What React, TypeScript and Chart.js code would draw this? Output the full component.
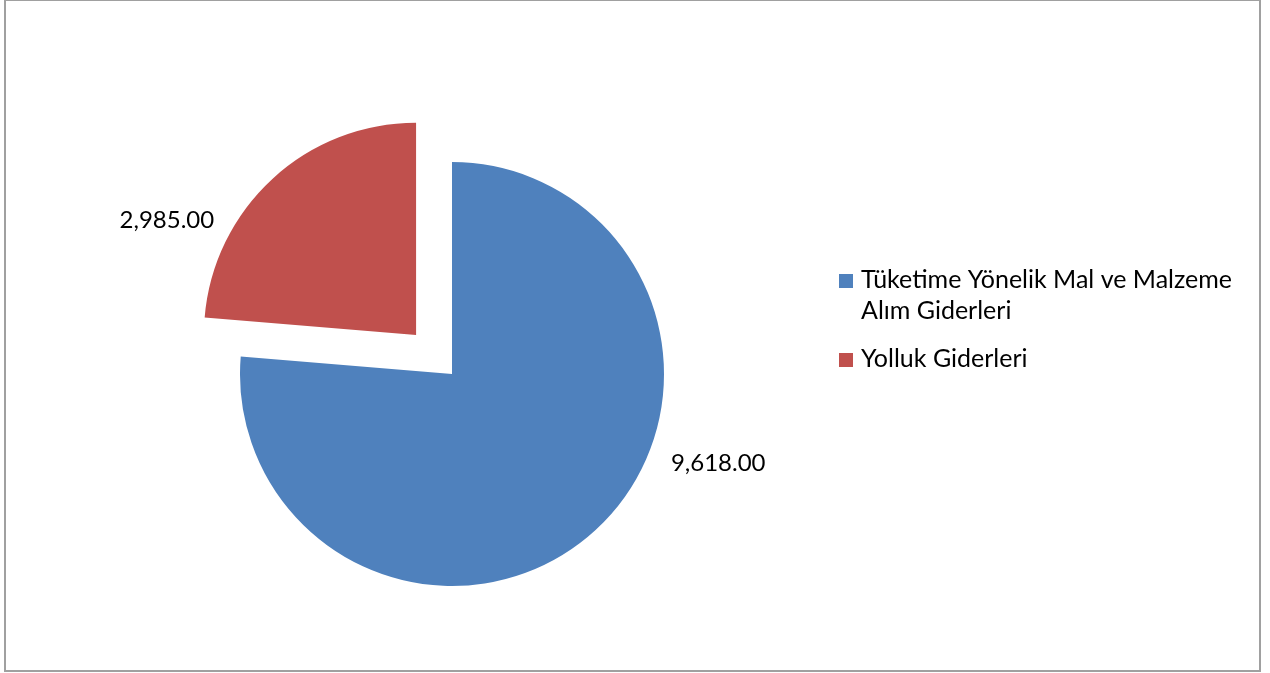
import React, { useEffect, useRef } from "react";
import { Chart, registerables } from "chart.js";

Chart.register(...registerables);

const categories = [
  "Tüketime Yönelik Mal ve Malzeme Alım Giderleri",
  "Yolluk Giderleri",
];
const legendLines = [
  ["Tüketime Yönelik Mal ve Malzeme", "Alım Giderleri"],
  ["Yolluk Giderleri"],
];
const values = [9618, 2985];
const colors = ["#4F81BD", "#C0504D"];

const FONT = "Lato, 'Open Sans', sans-serif";

const fmt = (v: number) =>
  v.toLocaleString("en-US", { minimumFractionDigits: 2, maximumFractionDigits: 2 });

const frameBorder = {
  id: "frameBorder",
  beforeDraw(chart: any) {
    const { ctx } = chart;
    ctx.save();
    ctx.fillStyle = "#ffffff";
    ctx.fillRect(0, 0, chart.width, chart.height);
    ctx.strokeStyle = "#a0a0a0";
    ctx.lineWidth = 2;
    ctx.strokeRect(5, 0, 1255, 671);
    ctx.restore();
  },
};

const valueLabels = {
  id: "valueLabels",
  afterDatasetsDraw(chart: any, _args: any, opts: any) {
    const { ctx } = chart;
    const meta = chart.getDatasetMeta(0);
    const ds = chart.data.datasets[0];
    ctx.save();
    ctx.font = `${opts.size}px ${FONT}`;
    ctx.fillStyle = "#000000";
    ctx.textAlign = "center";
    ctx.textBaseline = "middle";
    meta.data.forEach((arc: any, i: number) => {
      const p = arc.getProps(["x", "y", "startAngle", "endAngle", "outerRadius"], true);
      const off = ((ds.offset && ds.offset[i]) || 0) / 4;
      const mid = (p.startAngle + p.endAngle) / 2;
      const cx = p.x + Math.cos(mid) * off;
      const cy = p.y + Math.sin(mid) * off;
      const a = (opts.angles[i] * Math.PI) / 180;
      const d = opts.dist[i] * p.outerRadius;
      ctx.fillText(fmt(ds.data[i]), cx + Math.cos(a) * d, cy + Math.sin(a) * d);
    });
    ctx.restore();
  },
};

const sideLegend = {
  id: "sideLegend",
  afterDraw(chart: any, _args: any, opts: any) {
    const { ctx } = chart;
    const ds = chart.data.datasets[0];
    ctx.save();
    ctx.font = `${opts.size}px ${FONT}`;
    ctx.textAlign = "left";
    ctx.textBaseline = "alphabetic";
    let y = opts.top;
    legendLines.forEach((lines, i) => {
      ctx.fillStyle = ds.backgroundColor[i];
      ctx.fillRect(opts.boxX, y - opts.box, opts.box, opts.box);
      ctx.fillStyle = "#000000";
      lines.forEach((ln, j) => {
        ctx.fillText(ln, opts.textX, y + j * opts.lineH);
      });
      y += lines.length * opts.lineH + opts.gap;
    });
    ctx.restore();
  },
};

export default function App() {
  const ref = useRef<HTMLCanvasElement | null>(null);
  useEffect(() => {
    document.body.style.margin = "0";
    const chart = new Chart(ref.current as HTMLCanvasElement, {
      type: "pie",
      data: {
        labels: categories,
        datasets: [
          {
            data: values,
            backgroundColor: colors,
            borderWidth: 0,
            offset: [0, 212],
            hoverOffset: 0,
          } as any,
        ],
      },
      options: {
        responsive: false,
        animation: false,
        radius: 212,
        layout: { padding: { left: 20, right: 386, top: 100, bottom: 25 } },
        plugins: {
          legend: { display: false },
          tooltip: { enabled: false },
          valueLabels: { size: 24, angles: [18.6, 204.8], dist: [1.325, 1.295] },
          sideLegend: { size: 25, boxX: 839, box: 14, textX: 861, top: 288, lineH: 31, gap: 17 },
        } as any,
      } as any,
      plugins: [frameBorder, valueLabels, sideLegend],
    });
    return () => chart.destroy();
  }, []);
  return (
    <div style={{ position: "absolute", left: 0, top: 0, width: 1270, height: 673 }}>
      <canvas ref={ref} width={1270} height={673} style={{ width: 1270, height: 673 }} />
    </div>
  );
}
